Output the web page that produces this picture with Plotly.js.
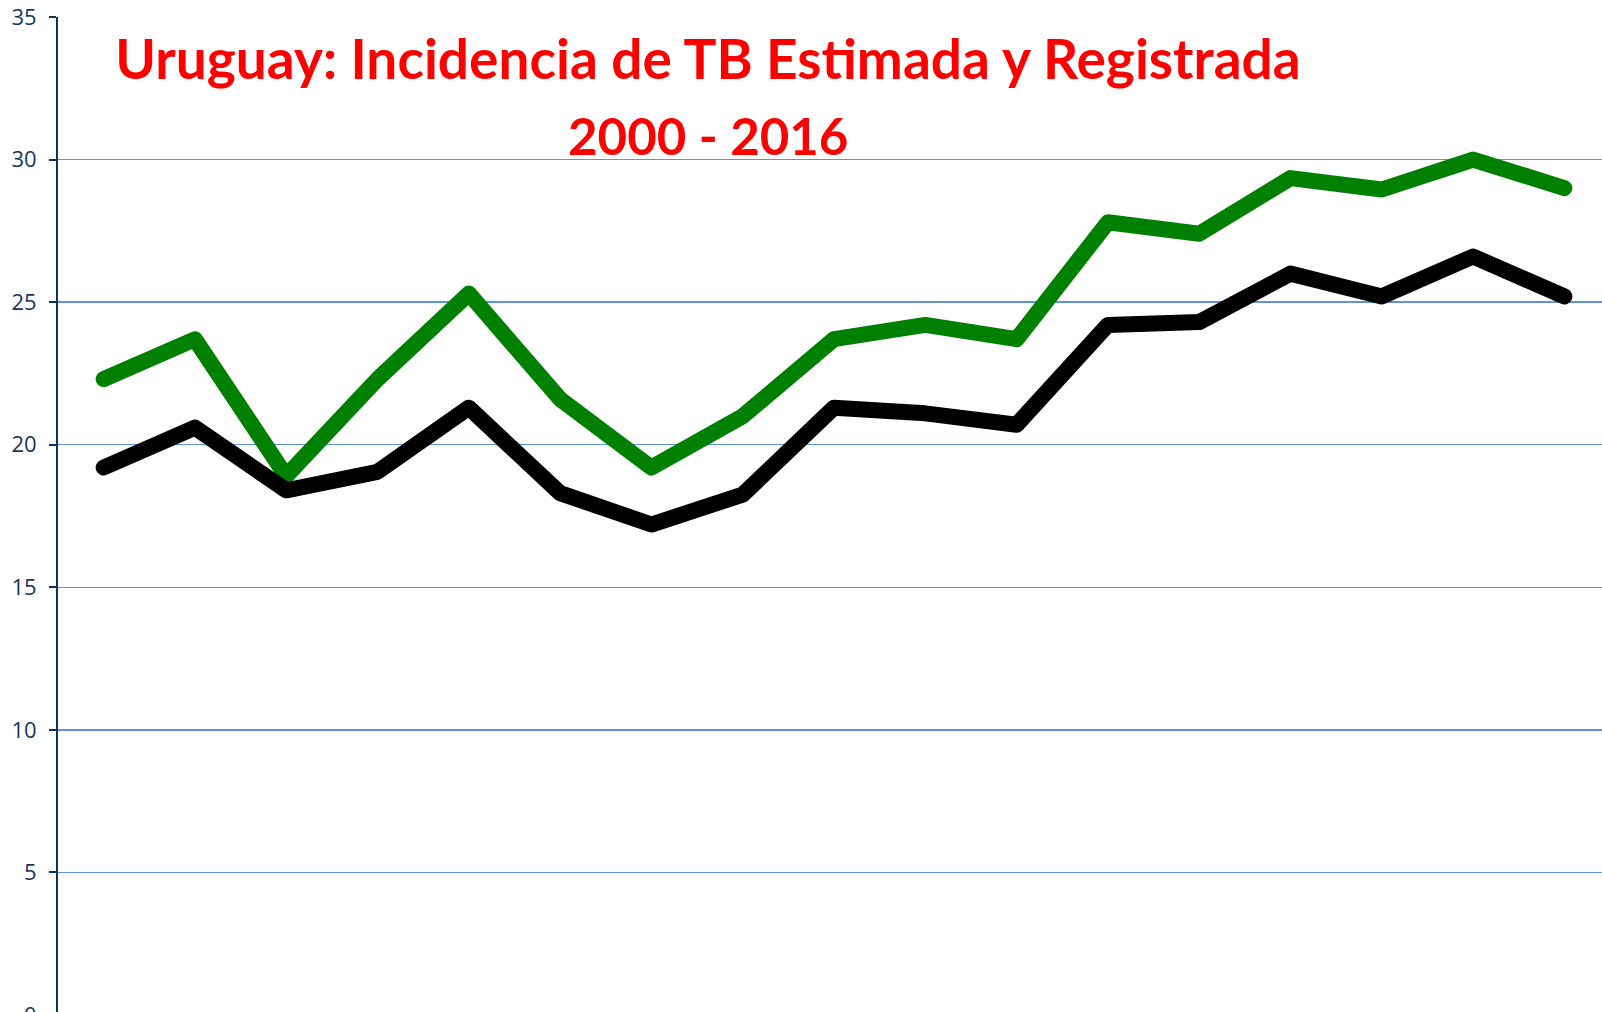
<!DOCTYPE html>
<html>
<head>
<meta charset="utf-8">
<script src="https://cdn.plot.ly/plotly-3.0.1.min.js"></script>
<style>
  html, body { margin: 0; padding: 0; overflow: hidden; background: #fff; }
  #chart { position: absolute; left: 0; top: 0; }
  .js-line { stroke-linejoin: round !important; stroke-linecap: round !important; }
</style>
</head>
<body>
<div id="chart"></div>
<script>
const years = ["2000","2001","2002","2003","2004","2005","2006","2007","2008","2009","2010","2011","2012","2013","2014","2015","2016"];
const estimada = [22.3, 23.7, 18.9, 22.3, 25.3, 21.6, 19.2, 21.0, 23.7, 24.2, 23.7, 27.8, 27.4, 29.35, 28.95, 30.0, 29.0];
const registrada = [19.2, 20.6, 18.4, 19.05, 21.3, 18.3, 17.2, 18.25, 21.3, 21.1, 20.7, 24.2, 24.3, 26.0, 25.2, 26.6, 25.2];
const yTicks = [0, 5, 10, 15, 20, 25, 30, 35];
const titleLine1 = "Uruguay: Incidencia de TB Estimada y Registrada";
const titleLine2 = "2000 - 2016";

const traces = [
  { x: years, y: estimada, type: 'scatter', mode: 'lines', name: 'Estimada',
    line: { color: '#008000', width: 16 } },
  { x: years, y: registrada, type: 'scatter', mode: 'lines', name: 'Registrada',
    line: { color: '#000000', width: 16 } }
];

const W = 1610, H = 1040;
const layout = {
  width: W, height: H,
  margin: { l: 58, r: 0, t: 17, b: 25 },
  paper_bgcolor: '#ffffff', plot_bgcolor: '#ffffff',
  showlegend: false,
  font: { family: 'Lato, "Open Sans", sans-serif' },
  title: {
    text: '<b>' + titleLine1 + '</b>',
    font: { family: 'Lato, sans-serif', size: 55, color: '#FF0000' },
    x: 708 / W, xanchor: 'center', xref: 'container',
    y: 1 - 40 / H, yanchor: 'top', yref: 'container'
  },
  annotations: [{
    text: '<b>' + titleLine2 + '</b>',
    font: { family: 'Lato, sans-serif', size: 51, color: '#FF0000' },
    xref: 'paper', yref: 'paper',
    x: (708 - 58) / (W - 58), xanchor: 'center',
    y: 1 - (103 - 17) / 998, yanchor: 'top',
    showarrow: false
  }],
  xaxis: {
    type: 'category', range: [-0.5, 16.5],
    showgrid: false, zeroline: false, showline: false,
    showticklabels: false, ticks: ''
  },
  yaxis: {
    range: [0, 35], tickvals: yTicks, ticktext: yTicks.map(String),
    showgrid: true, gridcolor: '#5F93E0', gridwidth: 1.5,
    zeroline: false,
    showline: true, linecolor: '#14305E', linewidth: 2,
    ticks: 'outside', ticklen: 7, tickcolor: '#14305E', tickwidth: 2,
    ticklabelstandoff: 8,
    tickfont: { family: '"Open Sans", Lato, sans-serif', size: 22, color: '#17365D' }
  }
};

Plotly.newPlot('chart', traces, layout, { staticPlot: true, displayModeBar: false });
</script>
</body>
</html>
